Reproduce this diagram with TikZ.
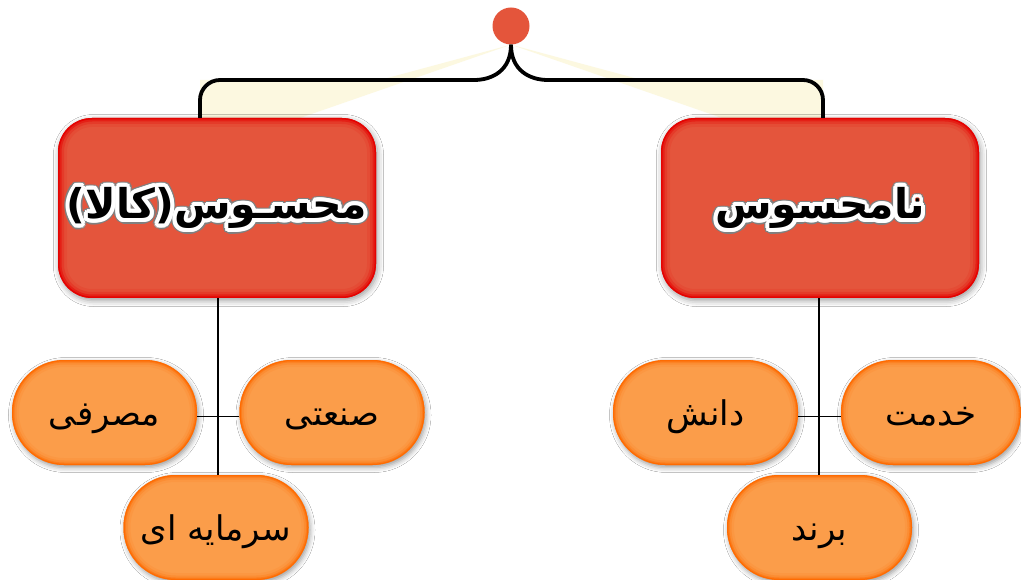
\documentclass[tikz,border=0pt]{standalone}
\usepackage{fontspec}
\usetikzlibrary{shadows.blur,calc}
\TeXXeTstate=1
\newfontfamily\arb[Script=Arabic]{DejaVu Sans}
\definecolor{redin}{HTML}{E4553C}
\definecolor{rededge}{HTML}{E40000}
\definecolor{orin}{HTML}{FB9D4A}
\definecolor{oredge}{HTML}{FF6A00}
\definecolor{cream}{HTML}{FCF8E0}
\definecolor{dotc}{HTML}{E4553B}
\tikzset{
  redbox/.style={rounded corners=34pt, minimum width=318pt, minimum height=180pt,
    inner sep=0pt, fill=redin,
    blur shadow={shadow xshift=1.5pt, shadow yshift=-2.5pt, shadow blur radius=6pt, shadow opacity=40},
    path picture={\foreach \w/\o in {18/0.10,12/0.22,7/0.45,3/0.9}{\draw[rededge, line width=\w pt, opacity=\o, rounded corners=34pt] (path picture bounding box.north west) rectangle (path picture bounding box.south east);}}},
  pill/.style={rounded corners=52pt, minimum width=185pt, minimum height=105pt,
    inner sep=0pt, fill=orin, text height=30pt, text depth=4pt,
    blur shadow={shadow xshift=1.5pt, shadow yshift=-2.5pt, shadow blur radius=5pt, shadow opacity=40},
    path picture={\foreach \w/\o in {14/0.10,9/0.22,5/0.45,2.5/0.9}{\draw[oredge, line width=\w pt, opacity=\o, rounded corners=52pt] (path picture bounding box.north west) rectangle (path picture bounding box.south east);}},
    font=\arb\fontsize{34}{40}\selectfont},
  bigtext/.style={inner sep=0pt, font=\arb\bfseries\fontsize{41}{48}\selectfont},
  bracket/.style={line width=3.8pt, black},
  link/.style={line width=1.6pt, black},
}
\begin{document}
\begin{tikzpicture}[x=1pt,y=-1pt]
\useasboundingbox[fill=white] (0,0) rectangle (1021,580);
% dot
\node[circle, fill=dotc, minimum size=37pt, inner sep=0pt] (dot) at (511,26) {};
% cream wedges
\fill[cream] (dot.south) -- (380,80) -- (200,80) -- (200,118) -- (300,118) -- cycle;
\fill[cream] (dot.south) -- (642,80) -- (823,80) -- (823,118) -- (722,118) -- cycle;
% bracket coordinates
\coordinate (bl) at (200,80);
\coordinate (br) at (823,80);
\coordinate (cl) at (474,80);
\coordinate (cr) at (548,80);
% boxes
\node[redbox] (L) at (217,208) {};
\node[redbox] (R) at (820,208) {};
\draw[bracket] (dot.south) .. controls +(0,26) and +(18,0) .. (cl) [rounded corners=20pt] -- (bl) -- (bl |- L.north);
\draw[bracket] (dot.south) .. controls +(0,26) and +(-18,0) .. (cr) [rounded corners=20pt] -- (br) -- (br |- R.north);
% halo text
\foreach \a in {0,22.5,...,337.5}{
  \node[bigtext, text=black!50] (Lg\a) at ($(L)+(\a:5.5)$) {\beginR محسـوس(کالا)\endR};
  \node[bigtext, text=black!50] (Rg\a) at ($(R)+(\a:5.5)$) {\beginR نامحسوس\endR};
}
\foreach \a in {0,22.5,...,337.5}{
  \node[bigtext, text=white] (Lw\a) at ($(L)+(\a:4)$) {\beginR محسـوس(کالا)\endR};
  \node[bigtext, text=white] (Rw\a) at ($(R)+(\a:4)$) {\beginR نامحسوس\endR};
}
\node[bigtext] (Lt) at (L) {\beginR محسـوس(کالا)\endR};
\node[bigtext] (Rt) at (R) {\beginR نامحسوس\endR};
% pills
\node[pill] (masrafi) at (104.5,412.5) {\beginR مصرفی\endR};
\node[pill] (sanati) at (332,412.5) {\beginR صنعتی\endR};
\node[pill] (sarmaye) at (216,527.5) {\beginR سرمایه ای\endR};
\node[pill] (danesh) at (705.5,412.5) {\beginR دانش\endR};
\node[pill, minimum width=180pt] (khedmat) at (931,412.5) {\beginR خدمت\endR};
\node[pill] (brand) at (819.5,527.5) {\beginR برند\endR};
% links
\draw[link] (L.south -| 218,0) -- (sarmaye.north -| 218,0);
\draw[link] ([yshift=-4pt]masrafi.east) -- ([yshift=-4pt]sanati.west);
\draw[link] (R.south -| 819,0) -- (brand.north -| 819,0);
\draw[link] ([yshift=-4pt]danesh.east) -- ([yshift=-4pt]khedmat.west);
\end{tikzpicture}
\end{document}
